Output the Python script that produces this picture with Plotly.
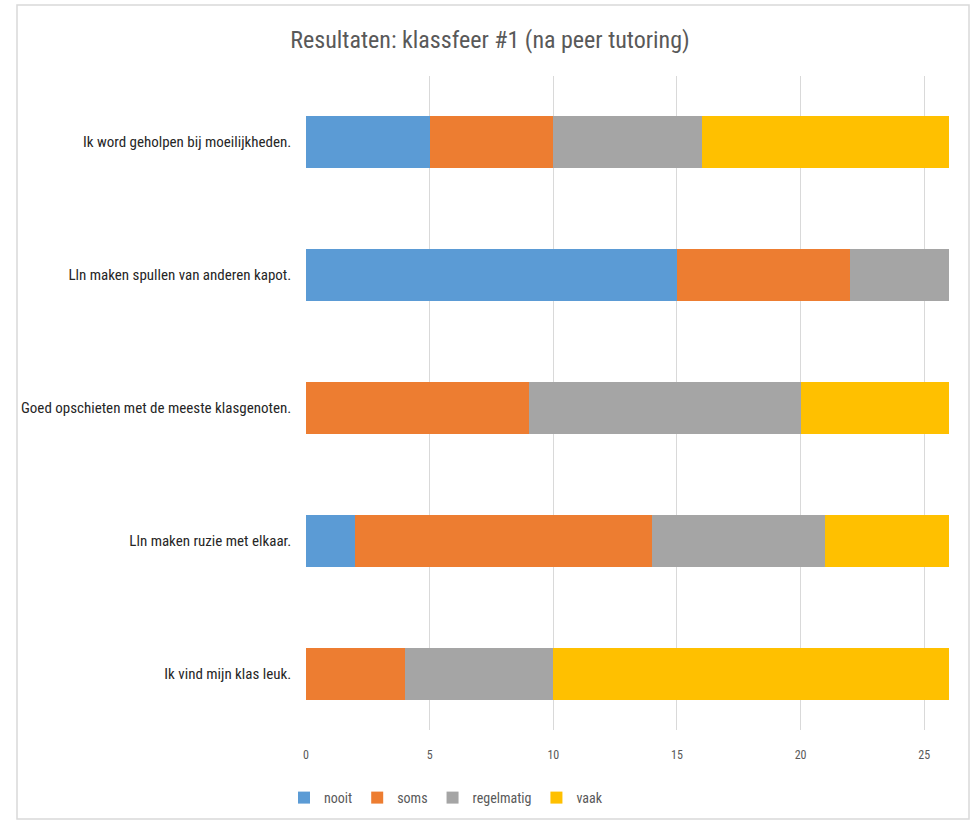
import plotly.graph_objects as go

# Survey statements (bottom to top as drawn)
statements = [
    "Ik vind mijn klas leuk.",
    "Lln maken ruzie met elkaar.",
    "Goed opschieten met de meeste klasgenoten.",
    "Lln maken spullen van anderen kapot.",
    "Ik word geholpen bij moeilijkheden.",
]

nooit = [0, 2, 0, 15, 5]
soms = [4, 12, 9, 7, 5]
regelmatig = [6, 7, 11, 4, 6]
vaak = [16, 5, 6, 0, 10]

series = [
    ("nooit", nooit, "#5B9BD5"),
    ("soms", soms, "#ED7D31"),
    ("regelmatig", regelmatig, "#A5A5A5"),
    ("vaak", vaak, "#FFC000"),
]

tick_vals = [0, 5, 10, 15, 20, 25]

FONT = "Liberation Sans Narrow, Roboto Condensed, Open Sans, sans-serif"

fig = go.Figure()
for name, vals, color in series:
    fig.add_trace(go.Bar(
        y=statements, x=vals, name=name, orientation="h",
        marker=dict(color=color, line=dict(width=0)),
    ))

W, H = 971, 821
ml, mr, mt, mb = 306, 22, 76, 91
pw, ph = W - ml - mr, H - mt - mb

def px_x(x):
    return (x - ml) / pw

def px_y(y):
    return (H - mb - y) / ph

fig.update_layout(
    width=W, height=H,
    barmode="stack",
    bargap=0.61,
    margin=dict(l=ml, r=mr, t=mt, b=mb, autoexpand=False),
    paper_bgcolor="white",
    plot_bgcolor="white",
    font=dict(family=FONT, color="#595959"),
    title=dict(
        text="Resultaten: klassfeer #1 (na peer tutoring)",
        x=px_x(490), xref="paper", xanchor="center",
        y=1 - 40 / H, yanchor="middle",
        font=dict(size=24, color="#595959", family=FONT),
    ),
    xaxis=dict(
        range=[0, 26], tickvals=tick_vals,
        showgrid=True, gridcolor="#D9D9D9", gridwidth=1,
        zeroline=False, showline=False, ticks="",
        tickfont=dict(size=12, color="#595959"),
        ticklabelstandoff=16,
        fixedrange=True,
    ),
    yaxis=dict(
        range=[-0.42, 4.496],
        showgrid=False, zeroline=False, showline=False, ticks="",
        tickfont=dict(size=15, color="#262626"),
        ticksuffix="    ",
        fixedrange=True,
    ),
    legend=dict(
        orientation="h", x=px_x(446), xanchor="center",
        y=px_y(798), yanchor="middle",
        font=dict(size=14, color="#595959"),
        itemwidth=30, itemsizing="constant",
        traceorder="normal",
    ),
    shapes=[dict(
        type="rect", xref="paper", yref="paper",
        x0=px_x(17), x1=px_x(969), y0=px_y(819), y1=px_y(5),
        line=dict(color="#D9D9D9", width=1.5), fillcolor="rgba(0,0,0,0)",
        layer="below",
    )],
)

fig.write_html("out.html")
